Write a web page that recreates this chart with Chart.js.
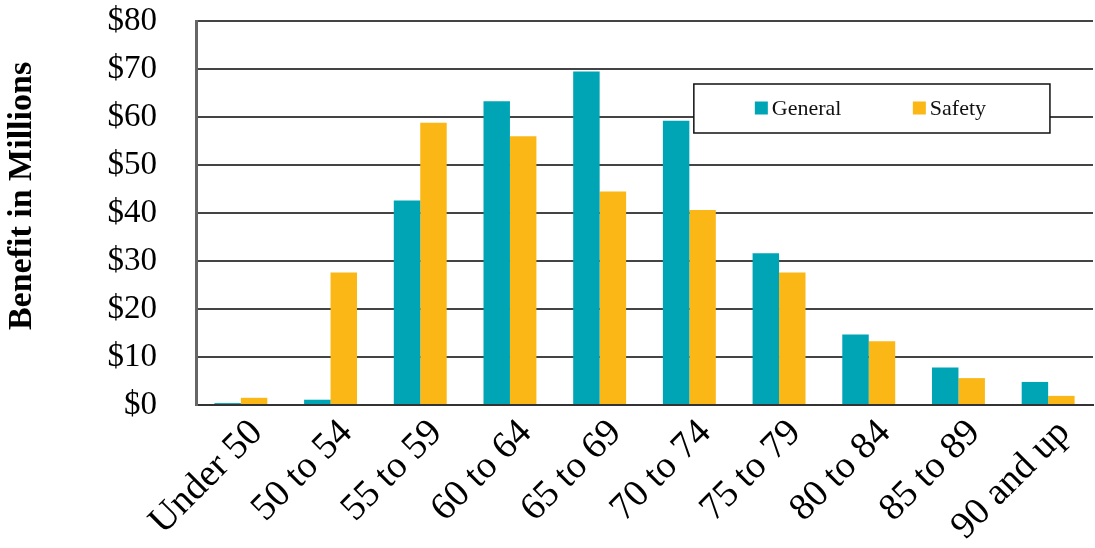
<!DOCTYPE html>
<html>
<head>
<meta charset="utf-8">
<script src="https://cdn.jsdelivr.net/npm/chart.js@4"></script>
<style>
  html, body { margin: 0; padding: 0; background: #fff; }
  #wrap { width: 1095px; height: 548px; }
</style>
</head>
<body>
<div id="wrap"><canvas id="chart"></canvas></div>
<script>
const categories = ['Under 50', '50 to 54', '55 to 59', '60 to 64', '65 to 69', '70 to 74', '75 to 79', '80 to 84', '85 to 89', '90 and up']
const general = [0.4, 1.1, 42.6, 63.3, 69.5, 59.2, 31.6, 14.7, 7.8, 4.8]
const safety = [1.5, 27.6, 58.8, 56.0, 44.5, 40.6, 27.6, 13.3, 5.6, 1.9]
const yMax = 80
const yStep = 10

const serif = '"Liberation Serif", "Times New Roman", serif'
const teal = '#00a5b5'
const gold = '#fbb716'

// boxed legend sitting inside the plot, drawn over the bars
const boxLegend = {
  id: 'boxLegend',
  afterDatasetsDraw(chart) {
    const { ctx, chartArea: a } = chart
    const w = a.right - a.left
    const x0 = a.left + w * 0.555
    const x1 = a.left + w * 0.952
    const y0 = 84
    const y1 = 133
    ctx.save()
    ctx.fillStyle = '#fff'
    ctx.fillRect(x0, y0, x1 - x0, y1 - y0)
    ctx.strokeStyle = '#111'
    ctx.lineWidth = 1.5
    ctx.strokeRect(x0, y0, x1 - x0, y1 - y0)
    ctx.font = '22px ' + serif
    ctx.textBaseline = 'middle'
    const cy = (y0 + y1) / 2
    chart.data.datasets.forEach((ds, i) => {
      const sx = x0 + 61 + i * 158
      ctx.fillStyle = ds.backgroundColor
      ctx.fillRect(sx, cy - 7, 13, 13)
      ctx.fillStyle = '#111'
      ctx.fillText(ds.label, sx + 17, cy + 1)
    })
    ctx.restore()
  }
}

// y axis title, placed a little above the plot centre as in the source
const yTitle = {
  id: 'yTitle',
  afterDraw(chart) {
    const { ctx } = chart
    ctx.save()
    ctx.translate(22, 196)
    ctx.rotate(-Math.PI / 2)
    ctx.font = 'bold 34px ' + serif
    ctx.fillStyle = '#000'
    ctx.textAlign = 'center'
    ctx.textBaseline = 'middle'
    ctx.fillText('Benefit in Millions', 0, 0)
    ctx.restore()
  }
}

new Chart(document.getElementById('chart'), {
  type: 'bar',
  data: {
    labels: categories,
    datasets: [
      { label: 'General', data: general, backgroundColor: teal },
      { label: 'Safety', data: safety, backgroundColor: gold }
    ]
  },
  options: {
    responsive: true,
    maintainAspectRatio: false,
    animation: false,
    layout: { padding: { top: 21, right: 2 } },
    datasets: {
      bar: { categoryPercentage: 0.59, barPercentage: 1.0 }
    },
    plugins: {
      legend: { display: false },
      tooltip: { enabled: false }
    },
    scales: {
      x: {
        afterFit: (s) => {
          s.height = 143
          s.paddingLeft = 0
          s.paddingRight = 0
        },
        grid: { display: false },
        border: { color: '#333', width: 2 },
        ticks: {
          autoSkip: false,
          maxRotation: 45,
          minRotation: 45,
          padding: -2,
          labelOffset: 16,
          color: '#000',
          font: { family: serif, size: 38 }
        }
      },
      y: {
        min: 0,
        max: yMax,
        afterFit: (s) => {
          s.width = 196
          s.paddingTop = 0
          s.paddingBottom = 0
        },
        grid: { color: '#444', lineWidth: 2, drawTicks: false },
        border: { color: '#666', width: 3 },
        ticks: {
          stepSize: yStep,
          padding: 39,
          color: '#000',
          font: { family: serif, size: 33 },
          callback: (v) => '$' + v
        }
      }
    }
  },
  plugins: [boxLegend, yTitle]
})
</script>
</body>
</html>
